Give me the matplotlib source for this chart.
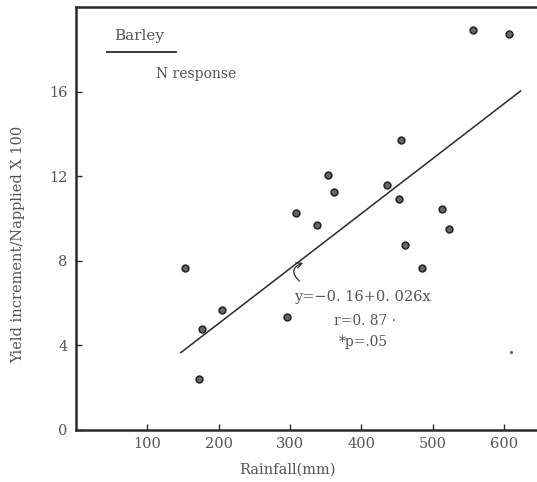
import matplotlib
matplotlib.use("Agg")
import matplotlib.pyplot as plt
import numpy as np

# ── data ─────────────────────────────────────────────────────────────────────
rainfall = [153, 176, 205, 173, 296, 308, 338, 353, 362, 436, 452, 456, 461, 485, 513, 523, 557, 607]
response = [7.67, 4.78, 5.66, 2.39, 5.34, 10.25, 9.72, 12.08, 11.26, 11.6, 10.93, 13.7, 8.76, 7.65, 10.45, 9.53, 18.9, 18.75]

# regression from the figure: y = -0.16 + 0.026x
intercept, slope = -0.16, 0.026
line_x = np.array([147, 623])

xticks = [100, 200, 300, 400, 500, 600]
yticks = [0, 4, 8, 12, 16]

ink = "#2a2a2a"
txt = "#555555"
plt.rcParams["font.family"] = ["DejaVu Serif"]

fig = plt.figure(figsize=(5.37, 4.82), dpi=100)
ax = fig.add_axes([0.1415, 0.108, 0.8585, 0.877])

ax.scatter(rainfall, response, s=24, facecolor="#666666", edgecolor="#222222",
           linewidth=1.1, zorder=3)
ax.plot(line_x, intercept + slope * line_x, color=ink, linewidth=1.1)

# small speck near lower right of the scan
ax.plot([610], [3.67], marker=".", markersize=2.5, color="#666666")

# hand-drawn squiggle arrow pointing at the line
ax.annotate("", xy=(322, 7.95), xytext=(316, 6.95),
            arrowprops=dict(arrowstyle="->", color=ink, lw=0.9,
                            connectionstyle="arc3,rad=-0.9"))

ax.text(305, 6.1, "y=\u22120. 16+0. 026x", fontsize=10.5, color=txt)
ax.text(362, 4.95, "r=0. 87 \u00b7", fontsize=10, color=txt)
ax.text(368, 3.95, "*p=.05", fontsize=10, color=txt)

ax.text(54, 18.45, "Barley", fontsize=11, color=txt)
ax.plot([44, 140], [17.9, 17.9], color=ink, linewidth=1.3, clip_on=False)
ax.text(112, 16.65, "N response", fontsize=10, color=txt)

ax.set_xlim(0, 646)
ax.set_ylim(0, 20)
ax.set_xticks(xticks)
ax.set_yticks(yticks)
ax.tick_params(direction="in", length=4, width=1.0, color=ink,
               labelsize=10.5, labelcolor=txt, pad=6)
ax.tick_params(axis="x", pad=5)

for side in ["left", "bottom", "top"]:
    ax.spines[side].set_linewidth(1.8)
    ax.spines[side].set_color(ink)
ax.spines["right"].set_visible(False)

ax.set_xlabel("Rainfall(mm)", fontsize=10.5, color=txt)
ax.set_ylabel("Yield increment/Napplied X 100", fontsize=10.5, color=txt)
ax.xaxis.set_label_coords(0.458, -0.077)
ax.yaxis.set_label_coords(-0.11, 0.44)

fig.savefig("out.png", dpi=100)
